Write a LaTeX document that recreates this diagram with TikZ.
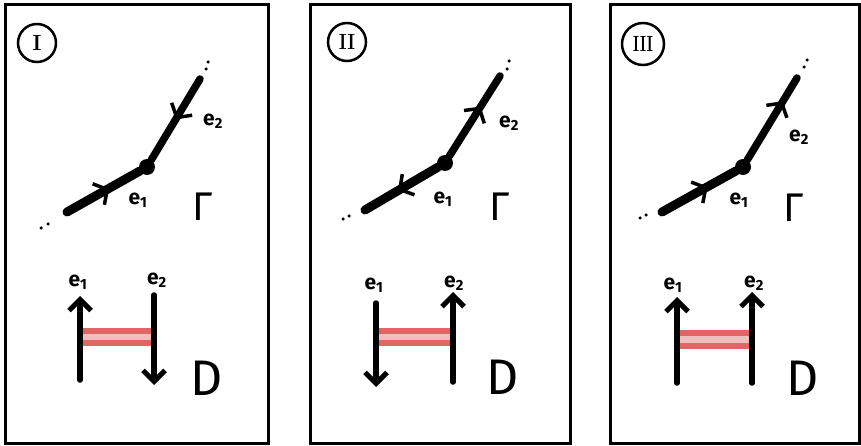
\documentclass[tikz,border=0pt]{standalone}
\usepackage{fontspec}
\setsansfont{Fira Sans}
\usetikzlibrary{arrows.meta,decorations.markings}
\definecolor{bandred}{HTML}{E06666}
\definecolor{bandpink}{HTML}{F2BDBD}
\tikzset{
 panel/.style={draw=black, line width=3pt},
 numcirc/.style={circle, draw, line width=2.5pt, minimum size=#1, inner sep=0pt, font=\bfseries\fontsize{22}{22}\selectfont},
 vtx/.style={circle, fill=black, minimum size=16pt, inner sep=0pt},
 edgeA/.style={line width=9pt, line cap=round},
 edgeB/.style={line width=7.5pt, line cap=round},
 fwd/.style={postaction={decorate}, decoration={markings, mark=at position #1 with {\arrow{Straight Barb[length=10pt,width=24pt,line width=3.5pt]}}}},
 bwd/.style={postaction={decorate}, decoration={markings, mark=at position #1 with {\arrowreversed{Straight Barb[length=10pt,width=24pt,line width=3.5pt]}}}},
 dotp/.style={circle, fill=black, inner sep=0pt, minimum size=3.5pt},
 lbl/.style={font=\sffamily\bfseries\fontsize{21}{21}\selectfont, inner sep=0pt},
 strand/.style={line width=5.5pt, line cap=round},
 barbtip/.style={-{Straight Barb[length=11pt,width=22pt,line width=5pt]}},
 bandline/.style={draw=bandred, line width=6pt, line cap=round},
 gam/.style={font=\sffamily\fontsize{40}{40}\selectfont, inner sep=0pt},
 dlab/.style={font=\sffamily\fontsize{50}{50}\selectfont, inner sep=0pt},
}
\begin{document}
\begin{tikzpicture}[x=1pt, y=-1pt]
\useasboundingbox (0,0) rectangle (861,446);
\fill[white] (0,0) rectangle (861,446);

% ---------------- Panel I ----------------
\draw[panel] (5,5) rectangle (268,443);
\node[numcirc=38pt] (n1) at (37,43) {I};
\node[vtx] (v1) at (147,167) {};
\coordinate (a1) at (67,212);
\coordinate (b1) at (200,79);
\draw[edgeA, fwd=0.58] (a1) -- (v1);
\draw[edgeB, bwd=0.5] (v1) -- (b1);
\node[dotp] (d1a) at (41,228) {};
\node[dotp] (d1b) at (48,224) {};
\node[dotp] (d1c) at (206,69) {};
\node[dotp] (d1d) at (208,62) {};
\node[lbl] (g1e1) at (138,200) {e\textsubscript{1}};
\node[lbl] (g1e2) at (213,121) {e\textsubscript{2}};
\node[gam] (G1) at (203,207) {Γ};
\coordinate (s1ab) at (80,380); \coordinate (s1at) at (80,296);
\coordinate (s1bt) at (154,295); \coordinate (s1bb) at (154,385);
\fill[bandpink] (80,331) rectangle (154,343);
\coordinate (r1a) at (80,331); \coordinate (r1b) at (154,331);
\coordinate (r1c) at (80,343); \coordinate (r1d) at (154,343);
\draw[bandline] (r1a) -- (r1b);
\draw[bandline] (r1c) -- (r1d);
\draw[strand, barbtip] (s1ab) -- (s1at);
\draw[strand, barbtip] (s1bt) -- (s1bb);
\node[lbl] (t1e1) at (78,282) {e\textsubscript{1}};
\node[lbl] (t1e2) at (157,280) {e\textsubscript{2}};
\node[dlab] (D1) at (207,378) {D};

% ---------------- Panel II ----------------
\draw[panel] (310,5) rectangle (570,443);
\node[numcirc=38pt] (n2) at (347,42) {\scalebox{0.85}[1]{II}};
\node[vtx] (v2) at (445,163) {};
\coordinate (a2) at (365,210);
\coordinate (b2) at (500,76);
\draw[edgeA, bwd=0.45] (a2) -- (v2);
\draw[edgeB, fwd=0.62] (v2) -- (b2);
\node[dotp] (d2a) at (343,219) {};
\node[dotp] (d2b) at (349,216) {};
\node[dotp] (d2c) at (507,69) {};
\node[dotp] (d2d) at (509,61) {};
\node[lbl] (g2e1) at (443,199) {e\textsubscript{1}};
\node[lbl] (g2e2) at (509,123) {e\textsubscript{2}};
\node[gam] (G2) at (500,207) {Γ};
\coordinate (s2at) at (376,303); \coordinate (s2ab) at (376,387);
\coordinate (s2bb) at (453,382); \coordinate (s2bt) at (453,292);
\fill[bandpink] (376,331) rectangle (453,343);
\coordinate (r2a) at (376,331); \coordinate (r2b) at (453,331);
\coordinate (r2c) at (376,343); \coordinate (r2d) at (453,343);
\draw[bandline] (r2a) -- (r2b);
\draw[bandline] (r2c) -- (r2d);
\draw[strand, barbtip] (s2at) -- (s2ab);
\draw[strand, barbtip] (s2bb) -- (s2bt);
\node[lbl] (t2e1) at (374,285) {e\textsubscript{1}};
\node[lbl] (t2e2) at (454,283) {e\textsubscript{2}};
\node[dlab] (D2) at (503,377) {D};

% ---------------- Panel III ----------------
\draw[panel] (610,5) rectangle (859,443);
\node[numcirc=42pt] (n3) at (643,44) {\scalebox{0.7}[1]{III}};
\node[vtx] (v3) at (743,167) {};
\coordinate (a3) at (662,212);
\coordinate (b3) at (797,78);
\draw[edgeA, fwd=0.62] (a3) -- (v3);
\draw[edgeB, fwd=0.72] (v3) -- (b3);
\node[dotp] (d3a) at (640,218) {};
\node[dotp] (d3b) at (646,215) {};
\node[dotp] (d3c) at (804,67) {};
\node[dotp] (d3d) at (807,60) {};
\node[lbl] (g3e1) at (739,200) {e\textsubscript{1}};
\node[lbl] (g3e2) at (799,137) {e\textsubscript{2}};
\node[gam] (G3) at (794,208) {Γ};
\coordinate (s3ab) at (677,383); \coordinate (s3at) at (677,297);
\coordinate (s3bb) at (752,383); \coordinate (s3bt) at (752,292);
\fill[bandpink] (677,333) rectangle (752,346);
\coordinate (r3a) at (677,333); \coordinate (r3b) at (752,333);
\coordinate (r3c) at (677,346); \coordinate (r3d) at (752,346);
\draw[bandline] (r3a) -- (r3b);
\draw[bandline] (r3c) -- (r3d);
\draw[strand, barbtip] (s3ab) -- (s3at);
\draw[strand, barbtip] (s3bb) -- (s3bt);
\node[lbl] (t3e1) at (673,285) {e\textsubscript{1}};
\node[lbl] (t3e2) at (754,283) {e\textsubscript{2}};
\node[dlab] (D3) at (803,378) {D};
\end{tikzpicture}
\end{document}
